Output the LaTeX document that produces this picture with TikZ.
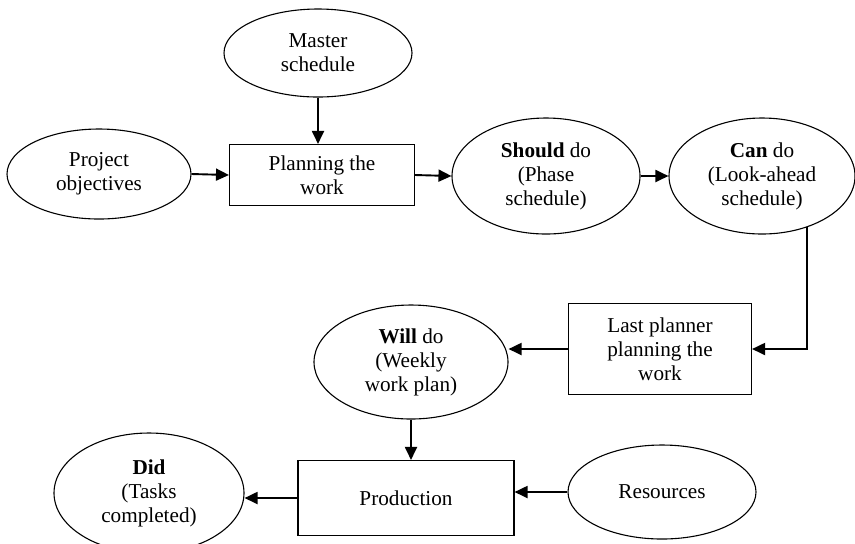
\documentclass[tikz,border=0pt]{standalone}
\usepackage{fontspec}
\setmainfont{Liberation Serif}
\usetikzlibrary{shapes.geometric,arrows.meta}

\tikzset{
  txt/.style={font=\fontsize{10.6}{12}\selectfont, align=center, inner sep=0pt},
  oval/.style={txt, ellipse, draw, line width=0.55pt},
  box/.style={txt, rectangle, draw, line width=0.55pt},
  arr/.style={line width=0.95pt, -{Triangle[length=6.5pt,width=6pt]}},
}

\begin{document}
\begin{tikzpicture}[x=0.5pt, y=-0.5pt]
  \useasboundingbox (0,0) rectangle (855,543);

  % top row
  \node[oval, minimum width=94pt, minimum height=44pt] (master) at (318,53) {Master\\schedule};
  \node[oval, minimum width=92pt, minimum height=45pt] (proj) at (99,174) {Project\\objectives};
  \node[box, minimum width=92.5pt, minimum height=30.5pt] (plan) at (322,175) {Planning the\\work};
  \node[oval, minimum width=94pt, minimum height=58pt] (should) at (546,176) {\textbf{Should} do\\(Phase\\schedule)};
  \node[oval, minimum width=93pt, minimum height=58pt] (can) at (762,176) {\textbf{Can} do\\(Look-ahead\\schedule)};

  % middle row
  \node[box, minimum width=91.5pt, minimum height=45.5pt] (lp) at (660,349) {Last planner\\planning the\\work};
  \node[oval, minimum width=97pt, minimum height=57pt] (will) at (411,362) {\textbf{Will} do\\(Weekly\\work plan)};

  % bottom row
  \node[box, minimum width=108pt, minimum height=37.5pt] (prod) at (406,498) {Production};
  \node[oval, minimum width=95pt, minimum height=60pt] (did) at (149,493) {\textbf{Did}\\(Tasks\\completed)};
  \node[oval, minimum width=94pt, minimum height=47pt] (res) at (662,492) {Resources};

  % connectors
  \draw[arr] (master.south) -- (master.south |- plan.north);
  \draw[arr] (proj.east) -- (plan.west);
  \draw[arr] (plan.east) -- (should.west);
  \draw[arr] (should.east) -- (can.west);
  \draw[arr] (can.-49.4) |- (lp.east);
  \draw[arr] (lp.west) -- (will.east |- lp.west);
  \draw[arr] (will.south) -- (will.south |- prod.north);
  \draw[arr] (prod.west) -- (did.east |- prod.west);
  \draw[arr] (res.west) -- (prod.east |- res.west);
\end{tikzpicture}
\end{document}
